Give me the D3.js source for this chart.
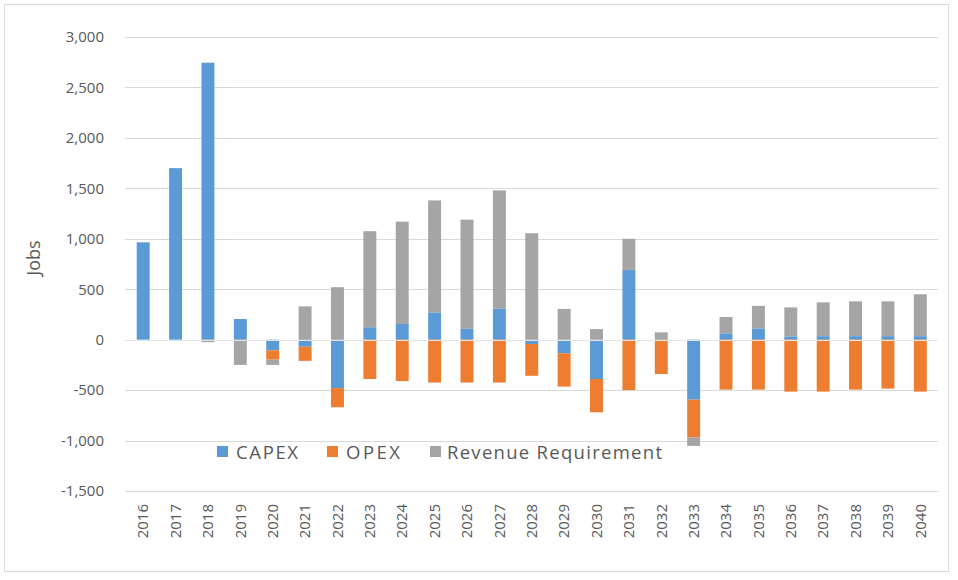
<!DOCTYPE html>
<html>
<head>
<meta charset="utf-8">
<script src="https://cdn.jsdelivr.net/npm/d3@7"></script>
<style>
  html, body { margin: 0; padding: 0; background: #fff; }
  svg { display: block; }
</style>
</head>
<body>
<svg id="chart" width="958" height="580"></svg>
<script>
// Categories and series
const years = ["2016","2017","2018","2019","2020","2021","2022","2023","2024","2025","2026","2027","2028",
  "2029","2030","2031","2032","2033","2034","2035","2036","2037","2038","2039","2040"];
const capex = [965, 1700, 2745, 205, -105, -70, -480, 123, 155, 270, 107, 310, -43,
  -135, -390, 690, 0, -595, 63, 112, 33, 35, 35, 35, 35];
const opex = [0, 0, 0, 0, -93, -140, -190, -390, -410, -425, -425, -425, -315,
  -330, -330, -500, -340, -375, -495, -495, -515, -515, -495, -485, -515];
const revenue = [0, 0, -25, -250, -52, 330, 520, 952, 1015, 1110, 1083, 1170, 1055,
  305, 105, 310, 73, -83, 162, 223, 287, 335, 345, 345, 415];
const seriesNames = ["CAPEX", "OPEX", "Revenue Requirement"];
const yTicks = [-1500, -1000, -500, 0, 500, 1000, 1500, 2000, 2500, 3000];

const colors = { "CAPEX": "#5B9BD5", "OPEX": "#ED7D31", "Revenue Requirement": "#A5A5A5" };
const fontFamily = "'Open Sans', 'DejaVu Sans', sans-serif";
const textColor = "#595959";
const gridColor = "#D9D9D9";

const svg = d3.select("#chart");

// Build rows for the stack
const rows = years.map((y, i) => ({
  year: y,
  "CAPEX": capex[i],
  "OPEX": opex[i],
  "Revenue Requirement": revenue[i]
}));

const stacked = d3.stack()
  .keys(seriesNames)
  .offset(d3.stackOffsetDiverging)(rows);

// Scales
const x = d3.scaleBand()
  .domain(years)
  .range([127, 936.5])
  .paddingInner(0.6)
  .paddingOuter(0.3);

const y = d3.scaleLinear()
  .domain([-1500, 3000])
  .range([491, 37]);

// Outer frame
svg.append("rect")
  .attr("x", 4.5)
  .attr("y", 4.5)
  .attr("width", 944)
  .attr("height", 567)
  .attr("fill", "#fff")
  .attr("stroke", gridColor)
  .attr("stroke-width", 1);

// Gridlines
svg.append("g")
  .selectAll("line")
  .data(yTicks)
  .join("line")
  .attr("x1", 125)
  .attr("x2", 938)
  .attr("y1", d => Math.round(y(d)) + 0.5)
  .attr("y2", d => Math.round(y(d)) + 0.5)
  .attr("stroke", gridColor)
  .attr("stroke-width", 1);

// Y axis labels (plain hyphen for negatives, like the original)
const fmt = d3.format(",");
const yAxis = svg.append("g")
  .attr("transform", "translate(112,0)")
  .call(d3.axisLeft(y).tickValues(yTicks).tickSize(0).tickPadding(8)
    .tickFormat(d => fmt(d).replace("\u2212", "-")));
yAxis.select(".domain").remove();
yAxis.selectAll("text")
  .attr("fill", textColor)
  .style("font-family", fontFamily)
  .style("font-size", "15px");

// Y axis title
svg.append("text")
  .attr("transform", "translate(40,258) rotate(-90)")
  .attr("text-anchor", "middle")
  .attr("fill", textColor)
  .style("font-family", fontFamily)
  .style("font-size", "18px")
  .text("Jobs");

// Bars
svg.append("g")
  .selectAll("g")
  .data(stacked)
  .join("g")
  .attr("fill", d => colors[d.key])
  .selectAll("rect")
  .data(d => d)
  .join("rect")
  .attr("x", d => x(d.data.year))
  .attr("width", x.bandwidth())
  .attr("y", d => y(Math.max(d[0], d[1])))
  .attr("height", d => Math.abs(y(d[0]) - y(d[1])));

// Zero line drawn over the bars
svg.append("line")
  .attr("x1", 125)
  .attr("x2", 938)
  .attr("y1", Math.round(y(0)) + 0.5)
  .attr("y2", Math.round(y(0)) + 0.5)
  .attr("stroke", "#E4E4E4")
  .attr("stroke-width", 1);

// X axis labels (rotated)
const xAxis = svg.append("g")
  .attr("transform", "translate(0,500)")
  .call(d3.axisBottom(x).tickSize(0).tickPadding(0));
xAxis.select(".domain").remove();
xAxis.selectAll("text")
  .attr("transform", "rotate(-90)")
  .attr("text-anchor", "end")
  .attr("x", -4)
  .attr("y", 0)
  .attr("dy", "0.35em")
  .attr("fill", textColor)
  .style("font-family", fontFamily)
  .style("font-size", "15px");

// Legend
const legendItems = [
  { key: "CAPEX", sx: 217, tx: 236, tw: 62 },
  { key: "OPEX", sx: 327, tx: 346, tw: 54 },
  { key: "Revenue Requirement", sx: 430, tx: 447, tw: 215 }
];
const legend = svg.append("g");
legend.selectAll("rect")
  .data(legendItems)
  .join("rect")
  .attr("x", d => d.sx)
  .attr("y", 446)
  .attr("width", 11)
  .attr("height", 11)
  .attr("fill", d => colors[d.key]);
legend.selectAll("text")
  .data(legendItems)
  .join("text")
  .attr("x", d => d.tx)
  .attr("y", 452)
  .attr("dy", "0.36em")
  .attr("textLength", d => d.tw)
  .attr("lengthAdjust", "spacing")
  .attr("fill", textColor)
  .style("font-family", fontFamily)
  .style("font-size", "18.5px")
  .text(d => d.key);
</script>
</body>
</html>
